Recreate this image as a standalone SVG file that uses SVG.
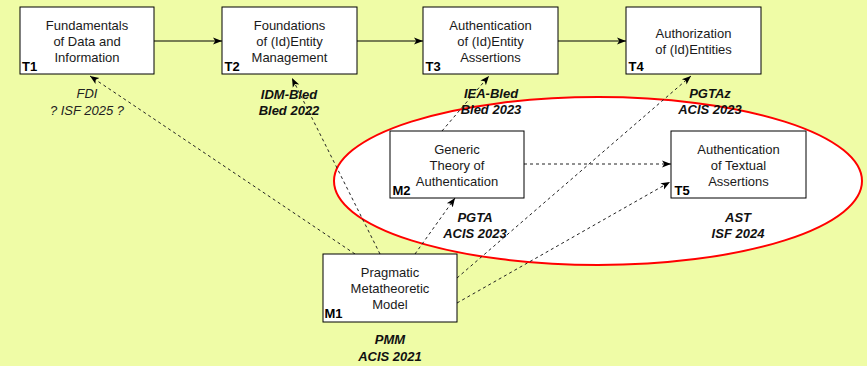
<svg xmlns="http://www.w3.org/2000/svg" width="867" height="366" viewBox="0 0 867 366">
  <style>
    .box { fill: #ffffff; stroke: #000000; stroke-width: 1; }
    .txt { font-family: "Liberation Sans", Arial, Helvetica, sans-serif; font-size: 13px; fill: #1a1a1a; text-anchor: middle; }
    .tag { font-family: "Liberation Sans", Arial, Helvetica, sans-serif; font-size: 13px; font-weight: bold; fill: #000000; }
    .pub { font-family: "Liberation Sans", Arial, Helvetica, sans-serif; font-size: 13px; font-weight: bold; font-style: italic; fill: #111111; text-anchor: middle; }
    .pub-plain { font-family: "Liberation Sans", Arial, Helvetica, sans-serif; font-size: 13px; font-style: italic; fill: #222222; text-anchor: middle; }
    .solid { fill: none; stroke: #000000; stroke-width: 1; marker-end: url(#head); }
    .dash { fill: none; stroke: #222222; stroke-width: 1; stroke-dasharray: 3 3; marker-end: url(#head); }
  </style>
  <defs>
    <marker id="head" viewBox="0 0 10 10" refX="10" refY="5" markerWidth="9" markerHeight="9" markerUnits="userSpaceOnUse" orient="auto">
      <path d="M0,1 L10,5 L0,9 L2.5,5 Z" fill="#000000"/>
    </marker>
  </defs>

  <!-- background -->
  <rect x="0" y="0" width="867" height="366" fill="#effca6"/>

  <!-- grouping ellipse around the authentication work -->
  <ellipse id="auth-scope" cx="598" cy="181" rx="264" ry="84" fill="#ffffff" stroke="#ff0000" stroke-width="2"/>

  <!-- connectors -->
  <g id="connectors">
    <line class="solid" x1="154" y1="41" x2="222" y2="41"/>
    <line class="solid" x1="357" y1="41" x2="423" y2="41"/>
    <line class="solid" x1="558" y1="41" x2="626" y2="41"/>
    <line class="dash" x1="524" y1="164" x2="671" y2="164"/>
    <line class="dash" x1="355" y1="254" x2="90" y2="76"/>
    <line class="dash" x1="380" y1="254" x2="292" y2="78"/>
    <line class="dash" x1="442" y1="131" x2="489" y2="76"/>
    <line class="dash" x1="457" y1="278" x2="691" y2="76"/>
    <line class="dash" x1="457" y1="303" x2="670" y2="182"/>
    <line class="dash" x1="415" y1="254" x2="455" y2="198"/>
  </g>

  <!-- publication labels -->
  <g id="labels">
    <text class="pub-plain" x="87" y="97.5">FDI</text>
    <text class="pub-plain" x="87" y="114.5">? ISF 2025 ?</text>
    <text class="pub" x="289" y="99">IDM-Bled</text>
    <text class="pub" x="289" y="115">Bled 2022</text>
    <text class="pub" x="491" y="98">IEA-Bled</text>
    <text class="pub" x="491" y="114">Bled 2023</text>
    <text class="pub" x="710" y="98">PGTAz</text>
    <text class="pub" x="710" y="114">ACIS 2023</text>
    <text class="pub" x="475" y="222">PGTA</text>
    <text class="pub" x="475" y="238">ACIS 2023</text>
    <text class="pub" x="738" y="222">AST</text>
    <text class="pub" x="738" y="238">ISF 2024</text>
    <text class="pub" x="390" y="344">PMM</text>
    <text class="pub" x="390" y="361">ACIS 2021</text>
  </g>

  <g id="T1">
    <rect class="box" x="20" y="7" width="134" height="67"/>
    <text class="txt" x="87" y="29.5">Fundamentals</text>
    <text class="txt" x="87" y="45.5">of Data and</text>
    <text class="txt" x="87" y="61.5">Information</text>
    <text class="tag" x="22" y="71">T1</text>
  </g>

  <g id="T2">
    <rect class="box" x="222" y="7" width="135" height="67"/>
    <text class="txt" x="289.5" y="29.5">Foundations</text>
    <text class="txt" x="289.5" y="45.5">of (Id)Entity</text>
    <text class="txt" x="289.5" y="61.5">Management</text>
    <text class="tag" x="224.5" y="71">T2</text>
  </g>

  <g id="T3">
    <rect class="box" x="423" y="7" width="135" height="67"/>
    <text class="txt" x="490.5" y="29.5">Authentication</text>
    <text class="txt" x="490.5" y="45.5">of (Id)Entity</text>
    <text class="txt" x="490.5" y="61.5">Assertions</text>
    <text class="tag" x="425.5" y="71">T3</text>
  </g>

  <g id="T4">
    <rect class="box" x="626" y="7" width="135" height="67"/>
    <text class="txt" x="693.5" y="37.5">Authorization</text>
    <text class="txt" x="693.5" y="53.5">of (Id)Entities</text>
    <text class="tag" x="628.5" y="71">T4</text>
  </g>

  <g id="M2">
    <rect class="box" x="390" y="131" width="134" height="67"/>
    <text class="txt" x="457" y="153.5">Generic</text>
    <text class="txt" x="457" y="169.5">Theory of</text>
    <text class="txt" x="457" y="185.5">Authentication</text>
    <text class="tag" x="392.5" y="194.5">M2</text>
  </g>

  <g id="T5">
    <rect class="box" x="671" y="131" width="135" height="67"/>
    <text class="txt" x="738.5" y="153.5">Authentication</text>
    <text class="txt" x="738.5" y="169.5">of Textual</text>
    <text class="txt" x="738.5" y="185.5">Assertions</text>
    <text class="tag" x="674.5" y="194.5">T5</text>
  </g>

  <g id="M1">
    <rect class="box" x="323" y="254" width="134" height="68"/>
    <text class="txt" x="390" y="277">Pragmatic</text>
    <text class="txt" x="390" y="293">Metatheoretic</text>
    <text class="txt" x="390" y="309">Model</text>
    <text class="tag" x="324.5" y="318">M1</text>
  </g>
</svg>
